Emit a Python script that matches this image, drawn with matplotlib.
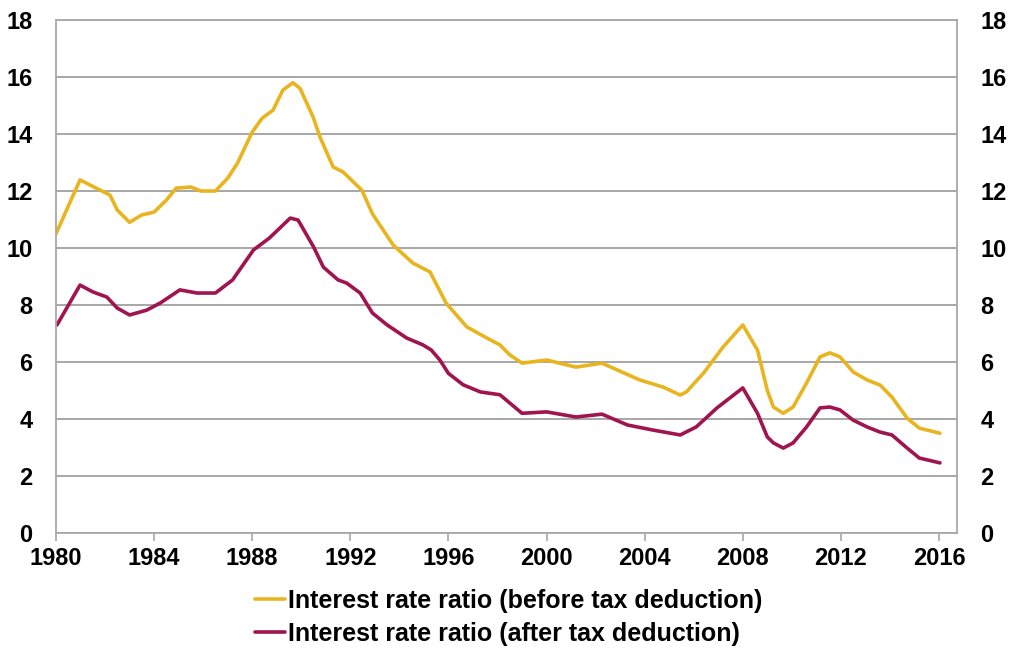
import matplotlib
matplotlib.use("Agg")
import matplotlib.pyplot as plt
from matplotlib import font_manager

# ---- data ----
years_before = [1980.0, 1980.98, 1981.8, 1982.2, 1982.5, 1983.0, 1983.5, 1984.0, 1984.5, 1984.9,
                1985.5, 1985.9, 1986.5, 1987.0, 1987.4, 1988.0, 1988.4, 1988.85, 1989.25, 1989.66,
                1989.95, 1990.48, 1990.76, 1991.3, 1991.7, 1992.47, 1992.9, 1993.75, 1994.55, 1995.25,
                1995.9, 1996.75, 1997.57, 1998.1, 1998.5, 1999.0, 2000.0, 2001.2, 2002.26, 2002.7,
                2003.8, 2004.75, 2005.45, 2005.7, 2006.4, 2007.2, 2008.0, 2008.6, 2009.0, 2009.25,
                2009.65, 2010.05, 2010.6, 2011.15, 2011.55, 2011.96, 2012.5, 2013.07, 2013.6, 2014.08,
                2014.7, 2015.2, 2016.04]
ratio_before = [10.5, 12.39, 12.03, 11.86, 11.33, 10.9, 11.16, 11.26, 11.68, 12.1,
                12.14, 12.0, 12.0, 12.45, 12.98, 14.07, 14.55, 14.84, 15.54, 15.8,
                15.6, 14.6, 13.9, 12.84, 12.67, 12.03, 11.2, 10.1, 9.47, 9.16,
                8.07, 7.23, 6.84, 6.6, 6.25, 5.96, 6.07, 5.82, 5.96, 5.79,
                5.37, 5.12, 4.84, 4.95, 5.61, 6.53, 7.3, 6.42, 5.0, 4.42,
                4.2, 4.42, 5.26, 6.18, 6.32, 6.18, 5.65, 5.37, 5.19, 4.77,
                4.03, 3.68, 3.5]

years_after = [1980.04, 1980.98, 1981.5, 1982.07, 1982.5, 1983.0, 1983.7, 1984.25, 1985.05, 1985.75,
               1986.5, 1987.2, 1988.05, 1988.7, 1989.55, 1989.87, 1990.5, 1990.9, 1991.5, 1991.85,
               1992.4, 1992.9, 1993.5, 1994.3, 1994.96, 1995.3, 1995.65, 1996.0, 1996.6, 1997.3,
               1998.1, 1999.0, 2000.0, 2001.2, 2002.26, 2003.3, 2004.35, 2005.45, 2006.1, 2006.95,
               2008.0, 2008.6, 2009.0, 2009.25, 2009.65, 2010.05, 2010.6, 2011.15, 2011.55, 2011.96,
               2012.5, 2013.07, 2013.6, 2014.08, 2014.7, 2015.2, 2016.04]
ratio_after = [7.3, 8.7, 8.46, 8.28, 7.89, 7.65, 7.82, 8.07, 8.53, 8.42,
               8.42, 8.88, 9.93, 10.35, 11.05, 10.98, 10.04, 9.33, 8.88, 8.77,
               8.42, 7.72, 7.3, 6.84, 6.6, 6.42, 6.07, 5.6, 5.2, 4.95,
               4.85, 4.2, 4.25, 4.07, 4.17, 3.79, 3.61, 3.44, 3.72, 4.39,
               5.09, 4.2, 3.37, 3.16, 2.98, 3.16, 3.72, 4.39, 4.42, 4.32,
               3.96, 3.72, 3.54, 3.44, 2.98, 2.63, 2.46]

x_ticks = list(range(1980, 2017, 4))
y_ticks = list(range(0, 19, 2))
label_before = "Interest rate ratio (before tax deduction)"
label_after = "Interest rate ratio (after tax deduction)"

# ---- font ----
names = {f.name for f in font_manager.fontManager.ttflist}
family = "Liberation Sans Narrow" if "Liberation Sans Narrow" in names else "Liberation Sans"
plt.rcParams['font.family'] = [family, 'DejaVu Sans']
plt.rcParams['font.weight'] = 'bold'

fig = plt.figure(figsize=(10.11, 6.54), dpi=100)
ax = fig.add_axes([56 / 1011, 1 - 533 / 654, (957 - 56) / 1011, (533 - 20) / 654])

c_before = '#E8B520'
c_after = '#A01450'
ax.plot(years_before, ratio_before, color=c_before, lw=2.6, label=label_before,
        solid_joinstyle='round', solid_capstyle='round')
ax.plot(years_after, ratio_after, color=c_after, lw=2.6, label=label_after,
        solid_joinstyle='round', solid_capstyle='round')

ax.set_xlim(1980, 2016 + 18 / 24.53)
ax.set_ylim(0, 18)
ax.set_xticks(x_ticks)
ax.set_yticks(y_ticks)
ax.yaxis.grid(True, color='#a0a0a0', lw=1.3)
ax.set_axisbelow(True)
for s in ax.spines.values():
    s.set_color('#a8a8a8')
    s.set_linewidth(1.3)

fs = 17
ax.tick_params(axis='x', direction='out', length=6, width=1.2, color='#a8a8a8', labelsize=fs, pad=4)
ax.tick_params(axis='y', length=0, labelsize=fs, pad=17, labelright=True, right=False)
for lab in ax.get_xticklabels() + ax.get_yticklabels():
    lab.set_fontweight('bold')

fig.legend(loc='upper left', bbox_to_anchor=(255 / 1011, 1 - 589 / 654), frameon=False,
           borderpad=0, borderaxespad=0,
           handlelength=1.2, handletextpad=0.1, labelspacing=0.35,
           prop={'size': 18, 'weight': 'bold', 'family': [family, 'DejaVu Sans']})

fig.savefig('out.png', dpi=100)
